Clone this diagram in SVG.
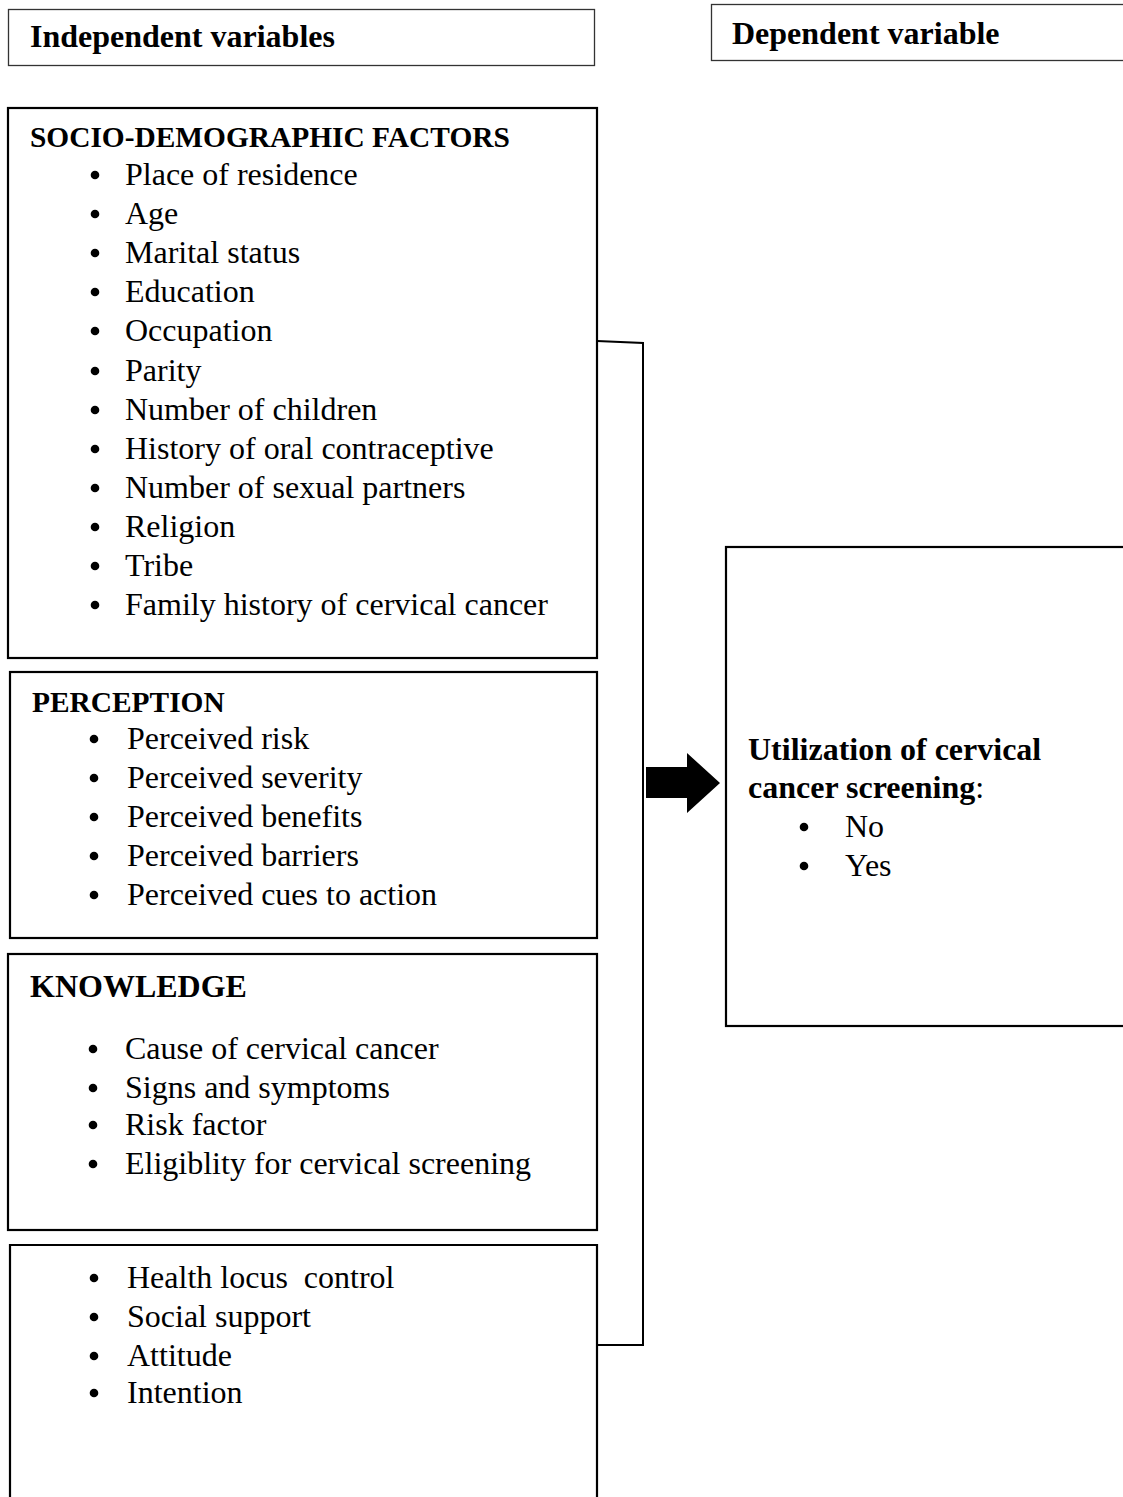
<svg xmlns="http://www.w3.org/2000/svg" width="1123" height="1497" viewBox="0 0 1123 1497">
<style>
text{font-family:"Liberation Serif","Times New Roman",serif;font-size:32px;fill:#000}
.b{font-weight:bold}
.h{font-weight:bold;font-size:29.4px}
.hdr{fill:#fff;stroke:#333;stroke-width:1.3}
.box{fill:#fff;stroke:#000;stroke-width:2.2}
.ln{fill:none;stroke:#000;stroke-width:2}
circle{fill:#000}
</style>
<rect width="1123" height="1497" fill="#fff"/>
<g id="hdr-independent"><rect class="hdr" x="8.5" y="9.5" width="586" height="56"/><text class="b" x="30" y="47">Independent variables</text></g>
<g id="hdr-dependent"><rect class="hdr" x="711.5" y="4.5" width="420" height="56"/><text class="b" x="732" y="44">Dependent variable</text></g>
<g id="socio">
<rect class="box" x="8" y="108" width="589" height="550"/>
<text class="h" x="30" y="147">SOCIO-DEMOGRAPHIC FACTORS</text>
<circle cx="95" cy="175" r="4.3"/><text x="125" y="185">Place of residence</text>
<circle cx="95" cy="214" r="4.3"/><text x="125" y="224">Age</text>
<circle cx="95" cy="253" r="4.3"/><text x="125" y="263">Marital status</text>
<circle cx="95" cy="292" r="4.3"/><text x="125" y="302">Education</text>
<circle cx="95" cy="331" r="4.3"/><text x="125" y="341">Occupation</text>
<circle cx="95" cy="371" r="4.3"/><text x="125" y="381">Parity</text>
<circle cx="95" cy="410" r="4.3"/><text x="125" y="420">Number of children</text>
<circle cx="95" cy="449" r="4.3"/><text x="125" y="459">History of oral contraceptive</text>
<circle cx="95" cy="488" r="4.3"/><text x="125" y="498">Number of sexual partners</text>
<circle cx="95" cy="527" r="4.3"/><text x="125" y="537">Religion</text>
<circle cx="95" cy="566" r="4.3"/><text x="125" y="576">Tribe</text>
<circle cx="95" cy="605" r="4.3"/><text x="125" y="615">Family history of cervical cancer</text>
</g>
<g id="perception">
<rect class="box" x="10" y="672" width="587" height="266"/>
<text class="h" x="32" y="712">PERCEPTION</text>
<circle cx="94" cy="739" r="4.3"/><text x="127" y="749">Perceived risk</text>
<circle cx="94" cy="778" r="4.3"/><text x="127" y="788">Perceived severity</text>
<circle cx="94" cy="817" r="4.3"/><text x="127" y="827">Perceived benefits</text>
<circle cx="94" cy="856" r="4.3"/><text x="127" y="866">Perceived barriers</text>
<circle cx="94" cy="895" r="4.3"/><text x="127" y="905">Perceived cues to action</text>
</g>
<g id="knowledge">
<rect class="box" x="8" y="954" width="589" height="276"/>
<text class="b" x="30" y="997">KNOWLEDGE</text>
<circle cx="93" cy="1049" r="4.3"/><text x="125" y="1059">Cause of cervical cancer</text>
<circle cx="93" cy="1088" r="4.3"/><text x="125" y="1098">Signs and symptoms</text>
<circle cx="93" cy="1125" r="4.3"/><text x="125" y="1135">Risk factor</text>
<circle cx="93" cy="1164" r="4.3"/><text x="125" y="1174">Eligiblity for cervical screening</text>
</g>
<g id="other">
<path class="box" d="M10,1500 V1245 H597 V1500"/>
<circle cx="94" cy="1278" r="4.3"/><text x="127" y="1288">Health locus&#160; control</text>
<circle cx="94" cy="1317" r="4.3"/><text x="127" y="1327">Social support</text>
<circle cx="94" cy="1356" r="4.3"/><text x="127" y="1366">Attitude</text>
<circle cx="94" cy="1393" r="4.3"/><text x="127" y="1403">Intention</text>
</g>
<g id="outcome">
<rect class="box" x="726" y="547" width="410" height="479"/>
<text class="b" x="748" y="760">Utilization of cervical</text>
<text x="748" y="798"><tspan class="b">cancer screening</tspan>:</text>
<circle cx="804" cy="827" r="4.3"/><text x="845" y="837">No</text>
<circle cx="804" cy="866" r="4.3"/><text x="845" y="876">Yes</text>
</g>
<g id="connectors">
<path class="ln" d="M597,341 L643,343 V1345 H597"/>
<path d="M646,767 H687 V753 L720,783 L687,813 V798 H646 Z" fill="#000"/>
</g>
</svg>
